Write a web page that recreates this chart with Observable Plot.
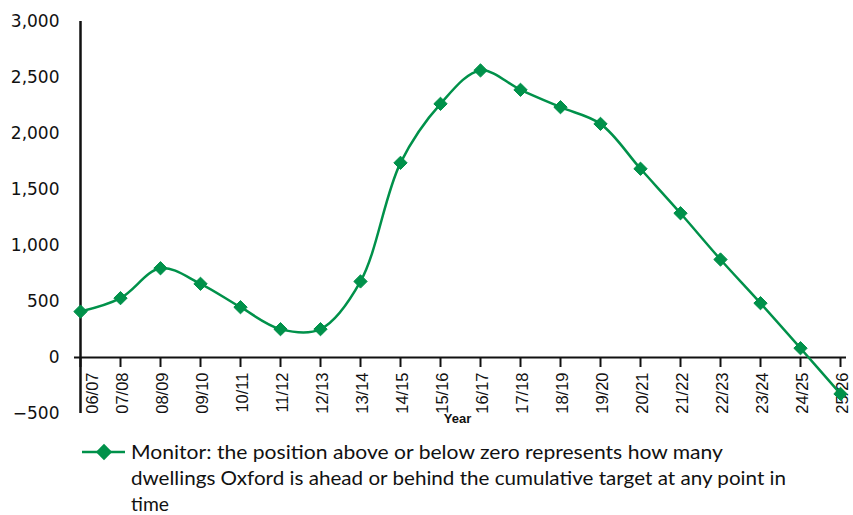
<!DOCTYPE html>
<html><head><meta charset="utf-8">
<script src="https://cdn.jsdelivr.net/npm/d3@7"></script>
<script src="https://cdn.jsdelivr.net/npm/@observablehq/plot@0.6"></script>
<style>body{margin:0;background:#fff;} #chart svg, #legend svg{display:block}</style>
</head><body><div id="chart"></div><div id="legend"></div>
<script>
const years = ["06/07","07/08","08/09","09/10","10/11","11/12","12/13","13/14","14/15","15/16","16/17","17/18","18/19","19/20","20/21","21/22","22/23","23/24","24/25","25/26"];
const values = [410,530,797,658,449,253,253,679,1738,2265,2563,2390,2235,2086,1685,1288,875,485,83,-325];
const yTicks = [-500,0,500,1000,1500,2000,2500,3000];
const xTitle = "Year";
const legendLines = [
  "Monitor: the position above or below zero represents how many",
  "dwellings Oxford is ahead or behind the cumulative target at any point in",
  "time"
];
const legendWidths = [592, 655, 38];
const green = "#00914a";
const ink = "#111";
const data = years.map((year, i) => ({year, value: values[i]}));
const labelStyle = {x: d => d, y: 0, text: d => d, rotate: -90, textAnchor: "end",
  dy: 15, fontSize: 16.5, fontFamily: "Liberation Sans", fill: ink};

const plot = Plot.plot({
  width: 853, height: 430,
  marginTop: 21, marginBottom: 17, marginLeft: 74, marginRight: 7,
  x: {type: "point", domain: years, padding: 0, axis: null},
  y: {domain: [-500, 3000], axis: null},
  style: {background: "white", color: ink},
  marks: [
    Plot.axisY({ticks: yTicks, tickFormat: d3.format(","), tickSize: 0, tickPadding: 15,
      fontSize: 17, fontFamily: "DejaVu Sans", label: null}),
    Plot.ruleY(yTicks, {y: d => d, x1: years[0], x2: years[0], insetLeft: -6, stroke: ink, strokeWidth: 2}),
    Plot.ruleX([years[0]], {y1: yTicks[0], y2: yTicks[yTicks.length - 1], stroke: ink, strokeWidth: 2.5}),
    Plot.ruleY([0], {stroke: ink, strokeWidth: 2}),
    Plot.ruleX(years, {x: d => d, y1: 0, y2: 0, insetBottom: -10, stroke: ink, strokeWidth: 2}),
    Plot.text(years.slice(0, 1), {...labelStyle, dx: 12}),
    Plot.text(years.slice(1), {...labelStyle, dx: 2}),
    Plot.text([xTitle], {frameAnchor: "bottom", text: d => d, dy: 9, dx: -3,
      fontWeight: "bold", fontSize: 13, fontFamily: "Liberation Sans", fill: ink}),
    Plot.line(data, {x: "year", y: "value", stroke: green, strokeWidth: 2.5, curve: "catmull-rom"}),
    Plot.dot(data, {x: "year", y: "value", symbol: "diamond2", fill: green, stroke: green, strokeWidth: 1, r: 6})
  ]
});
document.getElementById("chart").append(plot);

// legend
const lg = d3.select("#legend").append("svg").attr("width", 853).attr("height", 85);
lg.append("line").attr("x1", 82).attr("x2", 125).attr("y1", 22).attr("y2", 22)
  .attr("stroke", green).attr("stroke-width", 2.5);
lg.append("path").attr("d", d3.symbol(d3.symbolDiamond2, 170)())
  .attr("transform", "translate(104,22)").attr("fill", green);
legendLines.forEach((t, i) => {
  lg.append("text").attr("x", 131).attr("y", 29 + i * 26)
    .attr("font-family", "Lato").attr("font-size", 19).attr("fill", ink)
    .attr("textLength", legendWidths[i]).attr("lengthAdjust", "spacingAndGlyphs")
    .text(t);
});
</script></body></html>
